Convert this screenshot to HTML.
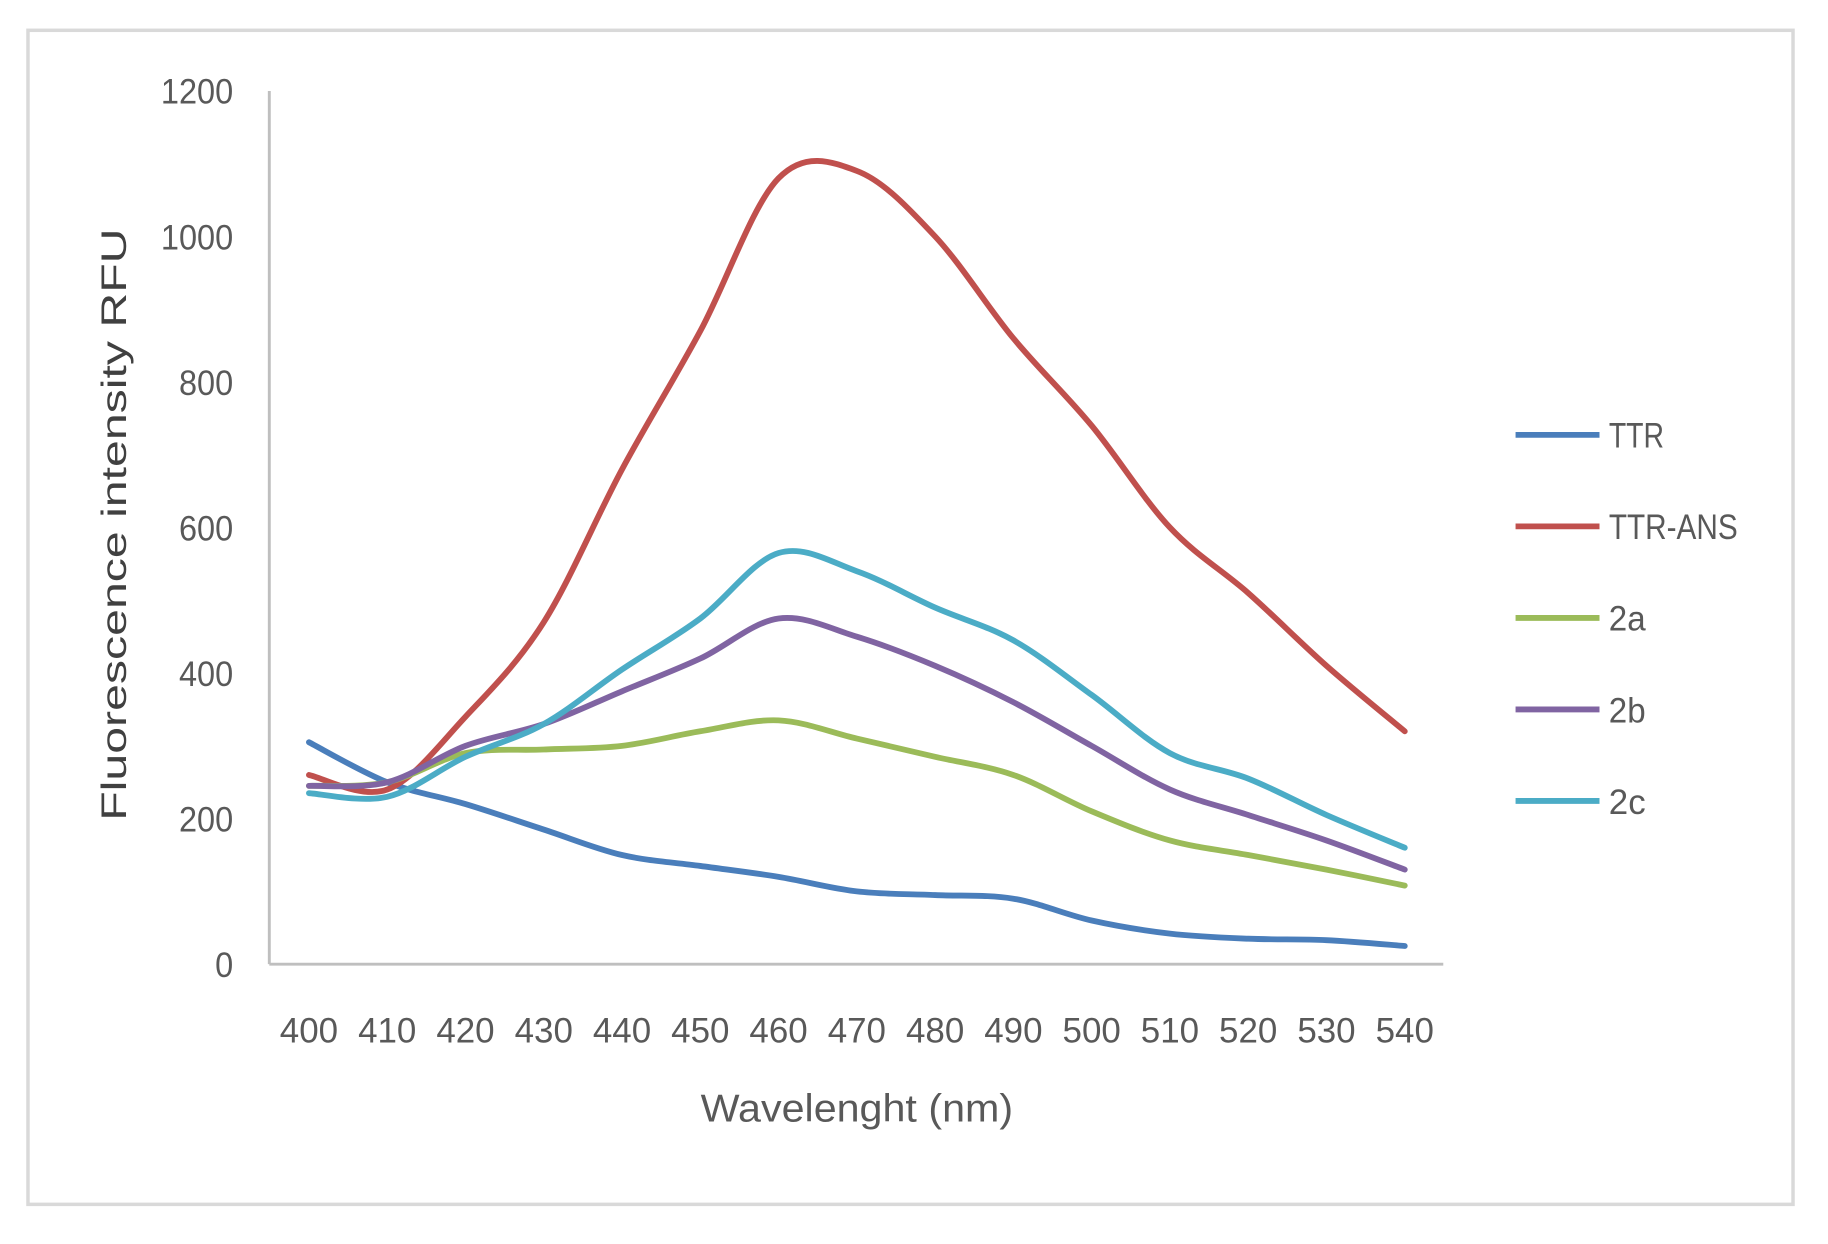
<!DOCTYPE html>
<html><head><meta charset="utf-8"><style>
html,body{margin:0;padding:0;background:#fff;}
svg{display:block;}
text{font-family:"Liberation Sans",sans-serif;fill:#595959;}
</style></head><body>
<svg id="s" width="1828" height="1244" viewBox="0 0 1568 1067" preserveAspectRatio="none">
<rect x="24" y="26" width="1514" height="1007" fill="#fff" stroke="#d9d9d9" stroke-width="3"/>
<line x1="231" y1="78" x2="231" y2="827" stroke="#bfbfbf" stroke-width="2.5"/>
<line x1="231" y1="827" x2="1238" y2="827" stroke="#bfbfbf" stroke-width="2.5"/>
<g id="yl" font-size="30" text-anchor="end"></g>
<g id="xl" font-size="30" text-anchor="middle"></g>
<text x="735" y="962" font-size="33" text-anchor="middle" textLength="268" lengthAdjust="spacingAndGlyphs">Wavelenght (nm)</text>
<text transform="translate(108,450) rotate(-90)" font-size="30" text-anchor="middle" textLength="508" lengthAdjust="spacingAndGlyphs" style="fill:#404040">Fluorescence intensity RFU</text>
<g id="lines" fill="none" stroke-width="5" stroke-linejoin="round" stroke-linecap="round"></g>
<g id="leg"></g>
</svg>
<script>
var NS="http://www.w3.org/2000/svg";
function el(t,a,p,txt){var e=document.createElementNS(NS,t);for(var k in a)e.setAttribute(k,a[k]);if(txt)e.textContent=txt;document.getElementById(p).appendChild(e);return e;}
function Y(v){return 827-v*0.6242;}
for(var v=0;v<=1200;v+=200){el('text',{x:200,y:Y(v)+11,textLength:String(v).length*15.5,lengthAdjust:'spacingAndGlyphs'},'yl',String(v));}
function X(i){return 265+i*67.14;}
for(var i=0;i<15;i++){el('text',{x:X(i),y:894,textLength:50,lengthAdjust:'spacingAndGlyphs'},'xl',String(400+i*10));}
var S=[
["TTR","#4a7ebb",[305,250,220,185,150,135,120,100,95,90,60,42,35,33,25]],
["TTR-ANS","#c0504d",[260,240,340,470,680,870,1080,1090,1000,860,740,600,510,410,320]],
["2a","#9bbb59",[245,250,290,295,300,320,335,310,285,260,210,170,150,130,108]],
["2b","#8064a2",[245,250,300,330,375,420,475,450,410,360,300,240,205,170,130]],
["2c","#4bacc6",[235,230,285,330,405,475,565,540,490,445,370,290,255,205,160]]];
S.forEach(function(s,k){
 var p=s[2].map(function(v,i){return [X(i),Y(v)];});
 var d="M"+p[0][0]+","+p[0][1];
 for(var i=0;i<p.length-1;i++){
  var p0=p[i-1]||p[i],p1=p[i],p2=p[i+1],p3=p[i+2]||p2,t=6;
  d+=" C"+(p1[0]+(p2[0]-p0[0])/t)+","+(p1[1]+(p2[1]-p0[1])/t)+" "+(p2[0]-(p3[0]-p1[0])/t)+","+(p2[1]-(p3[1]-p1[1])/t)+" "+p2[0]+","+p2[1];
 }
 el('path',{d:d,stroke:s[1]},'lines');
 var ly=373+k*78.5;
 el('line',{x1:1300,y1:ly,x2:1372,y2:ly,stroke:s[1],'stroke-width':5},'leg');
 el('text',{x:1380,y:ly+11,'font-size':30,textLength:s[0].length*15.8,lengthAdjust:'spacingAndGlyphs'},'leg',s[0]);
});
</script>
</body></html>
